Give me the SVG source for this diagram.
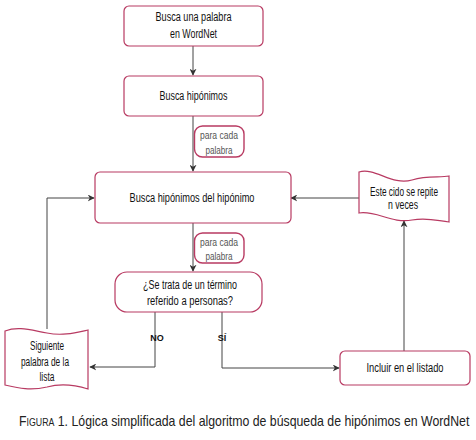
<svg xmlns="http://www.w3.org/2000/svg" width="476" height="440" viewBox="0 0 476 440">
<defs>
<marker id="ah" viewBox="0 0 10 10" refX="9" refY="5" markerWidth="7" markerHeight="7" markerUnits="userSpaceOnUse" orient="auto">
<path d="M0,0 L10,5 L0,10 L3,5 Z" fill="#333"/>
</marker>
<style>
.box{fill:#fff;stroke:#b83a62;stroke-width:1.2}
.lbl{fill:#fff;stroke:#b83a62;stroke-width:1.4}
.t{font-family:"Liberation Sans",Arial,sans-serif;font-size:12.5px;fill:#111;text-anchor:middle}
.s{font-family:"Liberation Sans",Arial,sans-serif;font-size:10.5px;fill:#555;text-anchor:middle}
.yn{font-family:"Liberation Sans",Arial,sans-serif;font-size:9px;fill:#111;text-anchor:middle;font-weight:bold}
.c{fill:none;stroke:#444;stroke-width:1;marker-end:url(#ah)}
.cap{font-family:"Liberation Sans",Arial,sans-serif;font-size:14px;fill:#222}
</style>
</defs>
<rect width="476" height="440" fill="#fff"/>
<g id="connectors">
<path class="c" d="M193,46 V75"/>
<path class="c" d="M193,116 V171"/>
<path class="c" d="M193,223 V271"/>
<path class="c" d="M155,312 V367 H90"/>
<path class="c" d="M222,312 V368 H339"/>
<path class="c" d="M404,351 V221"/>
<path class="c" d="M359,198 H291"/>
<path class="c" d="M47,329 V198 H94"/>
</g>
<g id="n1"><rect class="box" x="124" y="6" width="139" height="40" rx="5"/>
<text class="t" x="193.5" y="21" textLength="76" lengthAdjust="spacingAndGlyphs">Busca una palabra</text>
<text class="t" x="193.5" y="38" textLength="47" lengthAdjust="spacingAndGlyphs">en WordNet</text></g>
<g id="n2"><rect class="box" x="124" y="76" width="139" height="40" rx="5"/>
<text class="t" x="193.5" y="100" textLength="68" lengthAdjust="spacingAndGlyphs">Busca hipónimos</text></g>
<g id="l1"><rect class="lbl" x="194.5" y="126" width="49.5" height="31" rx="8"/>
<text class="s" x="219" y="139" textLength="38" lengthAdjust="spacingAndGlyphs">para cada</text>
<text class="s" x="219" y="154" textLength="27" lengthAdjust="spacingAndGlyphs">palabra</text></g>
<g id="n3"><rect class="box" x="95" y="172" width="196" height="51" rx="5"/>
<text class="t" x="192" y="202" textLength="125" lengthAdjust="spacingAndGlyphs">Busca hipónimos del hipónimo</text></g>
<g id="n4"><path class="box" d="M359,172 C375,167 392,186 412,180 C428,175 440,178 449,176 V222 C438,221 428,217 412,220 C392,224 376,210 359,213 Z"/>
<text class="t" x="404" y="196" font-size="11" textLength="68" lengthAdjust="spacingAndGlyphs">Este cido se repite</text>
<text class="t" x="403" y="209" font-size="11" textLength="30" lengthAdjust="spacingAndGlyphs">n veces</text></g>
<g id="l2"><rect class="lbl" x="194.5" y="233" width="49.5" height="30" rx="8"/>
<text class="s" x="219" y="246" textLength="38" lengthAdjust="spacingAndGlyphs">para cada</text>
<text class="s" x="219" y="260" textLength="27" lengthAdjust="spacingAndGlyphs">palabra</text></g>
<g id="n5"><rect class="box" x="115" y="272" width="147" height="40" rx="12"/>
<text class="t" x="190" y="289" textLength="94" lengthAdjust="spacingAndGlyphs">¿Se trata de un término</text>
<text class="t" x="190" y="305" textLength="86" lengthAdjust="spacingAndGlyphs">referido a personas?</text></g>
<text class="yn" x="157" y="341">NO</text>
<text class="yn" x="222" y="341">SÍ</text>
<g id="n6"><path class="box" d="M5,331 C18,326 30,330 47,333 C62,336 74,333 88,330 V389 C75,385 62,383 47,387 C30,391 18,388 5,385 Z"/>
<text class="t" x="47" y="350" font-size="11" textLength="34" lengthAdjust="spacingAndGlyphs">Siguiente</text>
<text class="t" x="45" y="366" font-size="11" textLength="48" lengthAdjust="spacingAndGlyphs">palabra de la</text>
<text class="t" x="47" y="381" font-size="11" textLength="15" lengthAdjust="spacingAndGlyphs">lista</text></g>
<g id="n7"><rect class="box" x="340" y="351" width="130" height="34" rx="5"/>
<text class="t" x="405" y="372" textLength="77" lengthAdjust="spacingAndGlyphs">Incluir en el listado</text></g>
<g transform="translate(19,426) scale(0.88,1)">
<text class="cap" x="0" y="0">F<tspan font-size="10">IGURA</tspan> 1. Lógica simplificada del algoritmo de búsqueda de hipónimos en WordNet</text>
</g>
</svg>
